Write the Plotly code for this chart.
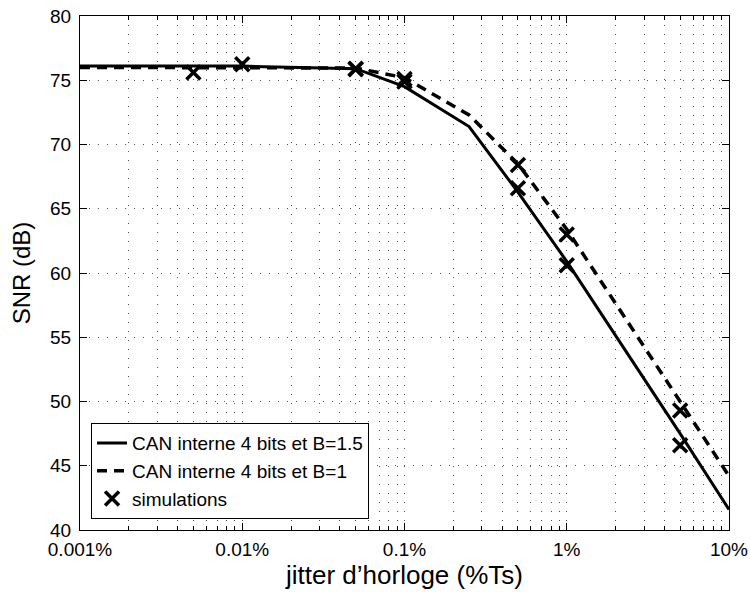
import plotly.graph_objects as go

# Data (jitter in %Ts, SNR in dB)
jitter = [0.001, 0.005, 0.01, 0.05, 0.1, 0.25, 0.5, 1, 5, 10]
snr_b15 = [76.1, 76.1, 76.1, 75.9, 74.5, 71.4, 66.3, 60.9, 47.5, 41.6]
snr_b1 = [76.0, 76.0, 76.0, 75.95, 75.2, 72.3, 68.5, 63.4, 50.0, 44.2]

sim_jitter = [0.005, 0.01, 0.05, 0.05, 0.1, 0.1, 0.5, 0.5, 1, 1, 5, 5]
sim_snr = [75.6, 76.25, 75.85, 75.9, 74.9, 75.1, 66.6, 68.4, 60.6, 63.0, 46.6, 49.3]

x_major = [0.001, 0.01, 0.1, 1, 10]
x_labels = ['0.001%', '0.01%', '0.1%', '1%', '10%']
x_minor = [k * d for d in [0.001, 0.01, 0.1, 1] for k in range(2, 10)]

FONT = 'Liberation Sans, Arial, sans-serif'
GRID = '#555555'

fig = go.Figure()

fig.add_trace(go.Scatter(
    x=jitter, y=snr_b15, mode='lines',
    line=dict(color='black', width=3),
    name='CAN interne 4 bits et B=1.5'
))
fig.add_trace(go.Scatter(
    x=jitter, y=snr_b1, mode='lines',
    line=dict(color='black', width=3.5, dash='10px,7px'),
    name='CAN interne 4 bits et B=1'
))
fig.add_trace(go.Scatter(
    x=sim_jitter, y=sim_snr, mode='markers',
    marker=dict(symbol='x-thin', size=14, line=dict(color='black', width=3.5)),
    name='simulations'
))

fig.update_layout(
    width=750, height=592,
    margin=dict(l=80, r=21, t=16, b=62, autoexpand=False),
    plot_bgcolor='white', paper_bgcolor='white',
    font=dict(family=FONT, color='black', size=19),
    legend=dict(
        x=0.017, y=0.021, xanchor='left', yanchor='bottom',
        bgcolor='white', bordercolor='black', borderwidth=1,
        font=dict(size=19), tracegroupgap=0
    ),
)

fig.update_xaxes(
    type='log', range=[-3, 1], automargin=False,
    tickvals=x_major, ticktext=x_labels,
    ticks='inside', ticklen=7, tickcolor='black',
    showline=True, linecolor='black', linewidth=1, mirror='all',
    showgrid=True, gridcolor=GRID, griddash='1px,8px', gridwidth=1,
    minor=dict(tickvals=x_minor, ticks='inside', ticklen=4, tickcolor='black',
               showgrid=True, gridcolor=GRID, griddash='1px,8px', gridwidth=1),
    tickfont=dict(size=19), ticklabelstandoff=2,
    zeroline=False,
    title=dict(text='jitter d\u2019horloge (%Ts)', font=dict(size=26), standoff=0),
)
fig.update_yaxes(
    range=[40, 80], dtick=5, automargin=False,
    ticks='inside', ticklen=7, tickcolor='black',
    showline=True, linecolor='black', linewidth=1, mirror='all',
    showgrid=True, gridcolor=GRID, griddash='1px,8px', gridwidth=1,
    tickfont=dict(size=19), ticklabelstandoff=4,
    zeroline=False,
    title=dict(text='SNR (dB)', font=dict(size=24), standoff=12),
)

# drop the default page margin so the figure sits at the window's corner
fig.write_html("out.html", config={'displayModeBar': False},
               post_script="document.body.style.margin='0';")
